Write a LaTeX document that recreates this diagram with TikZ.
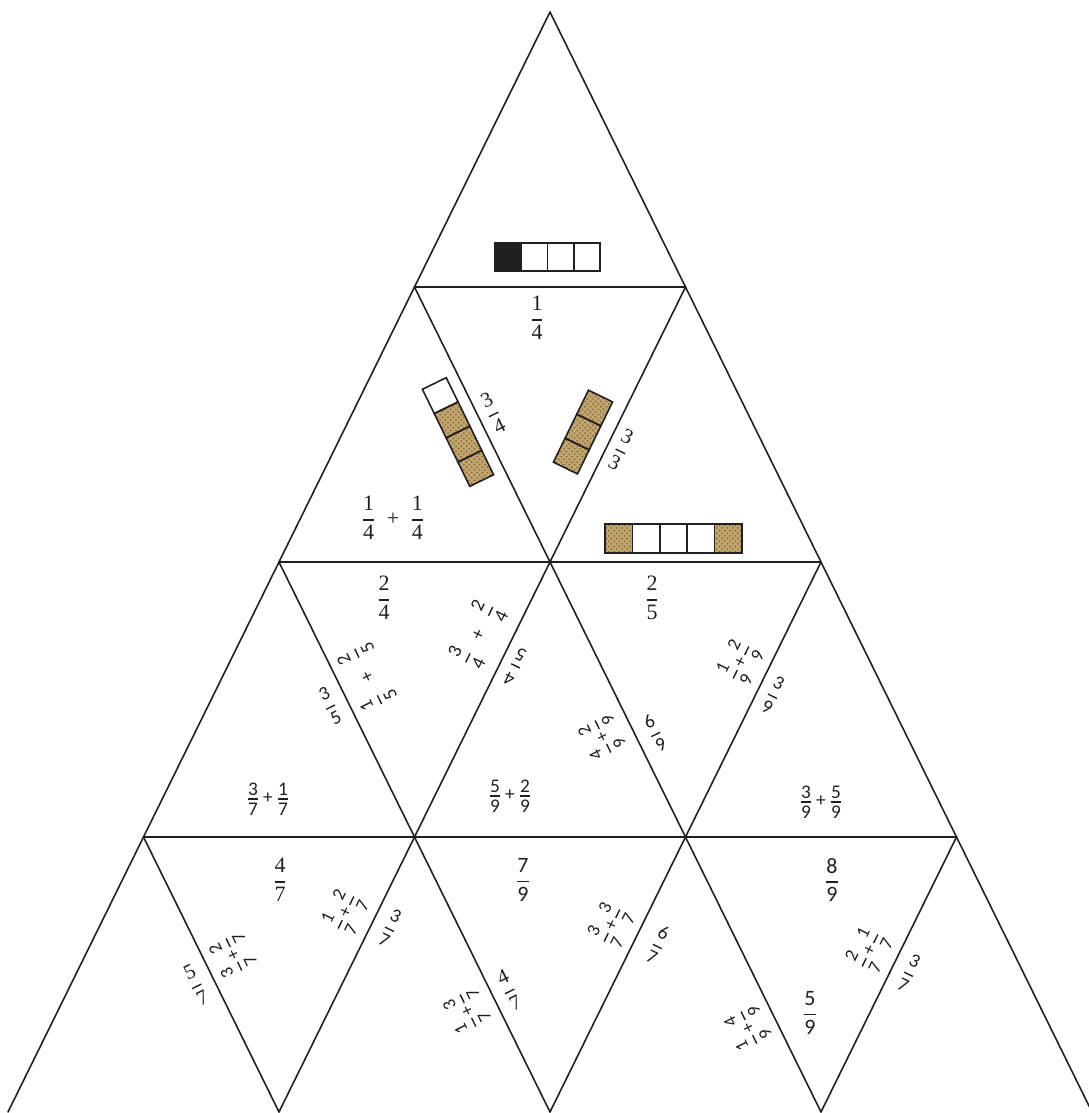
\documentclass[tikz,border=0pt]{standalone}
\usepackage{amsmath}
\usepackage{fontspec}
\setmainfont{Liberation Serif}
\newfontfamily\sansdigits{Carlito}
\usepackage{tikz}
\usetikzlibrary{patterns}
\definecolor{ink}{HTML}{231F20}
\definecolor{burlap}{HTML}{C1A56F}
\definecolor{burlapdark}{HTML}{7A5F33}
\newcommand{\fr}[2]{\ensuremath{\genfrac{}{}{0.8pt}{0}{\mbox{#1}}{\mbox{#2}}}}
\newcommand{\tfr}[2]{\ensuremath{\genfrac{}{}{0.8pt}{1}{\mbox{#1\rule[-1pt]{0pt}{1pt}}}{\mbox{#2\rule{0pt}{0.75em}}}}}
\tikzset{
  edge/.style={draw=ink,line width=0.9pt,line cap=round},
  cell/.style={draw=ink,line width=0.9pt},
  burl/.style={fill=burlap,postaction={pattern=crosshatch dots,pattern color=burlapdark}},
  big/.style={font=\fontsize{12.5}{15}\selectfont,text=ink,inner sep=0pt},
  bigsans/.style={font=\sansdigits\fontsize{12.5}{15}\selectfont,text=ink,inner sep=0pt},
  mid/.style={font=\fontsize{12}{14}\selectfont,text=ink,inner sep=0pt},
  single/.style={font=\sansdigits\fontsize{11}{13}\selectfont,text=ink,inner sep=0pt},
  small/.style={font=\sansdigits\fontsize{10.5}{12}\selectfont,text=ink,inner sep=0pt},
  flat/.style={font=\sansdigits\fontsize{11}{13}\selectfont,text=ink,inner sep=0pt},
  smallbig/.style={font=\sansdigits\fontsize{11}{13}\selectfont,text=ink,inner sep=0pt}
}
\begin{document}
\begin{tikzpicture}[x=0.02cm,y=-0.02cm]
\useasboundingbox (0,0) rectangle (1089,1113);
\clip (0,0) rectangle (1089,1113);

\foreach \i in {0,...,4}{
  \foreach \j in {0,...,\i}{
    \coordinate (v-\i-\j) at ({550+135.5*(2*\j-\i)},{12+275*\i});
  }
}
\draw[edge] (v-0-0) -- (v-4-0);
\draw[edge] (v-0-0) -- (v-4-4);
\foreach \k/\m in {1/3,2/2,3/1}{
  \draw[edge] (v-\k-0) -- (v-\k-\k);
  \draw[edge] (v-\k-0) -- (v-4-\m);
  \draw[edge] (v-\k-\k) -- (v-4-\k);
}

% bars of cells
\fill[ink] (495,243) rectangle ++(26.25,28);
\foreach \k in {0,...,3} \draw[cell] ({495+26.25*\k},243) rectangle ++(26.25,28);

\foreach \k in {0,4} \path[burl] ({605+27.4*\k},524) rectangle ++(27.4,29);
\foreach \k in {0,...,4} \draw[cell] ({605+27.4*\k},524) rectangle ++(27.4,29);

\begin{scope}[shift={(458,432)},rotate=26]
  \foreach \k in {1,2,3} \path[burl] (-13.25,{-54+27*\k}) rectangle ++(26.5,27);
  \foreach \k in {0,...,3} \draw[cell] (-13.25,{-54+27*\k}) rectangle ++(26.5,27);
\end{scope}
\begin{scope}[shift={(583,432)},rotate=-26]
  \foreach \k in {0,1,2} \path[burl] (-13.4,{-40+26.7*\k}) rectangle ++(26.8,26.7);
  \foreach \k in {0,1,2} \draw[cell] (-13.4,{-40+26.7*\k}) rectangle ++(26.8,26.7);
\end{scope}

\node[big] (quarter) at (537,318) {\fr{1}{4}};
\node[mid,rotate=26] (threeqtr) at (493,413) {\fr{3}{4}};
\node[mid,rotate=-26] (whole) at (621,450) {\fr{3}{3}};
\node[big] (qtrsum) at (393,518) {\fr{1}{4}\hspace{6pt}+\hspace{6pt}\fr{1}{4}};

\node[big] (half) at (384,598) {\fr{2}{4}};
\node[big] (twofifths) at (652,598) {\fr{2}{5}};
\node[single,rotate=26] (threefifths) at (330,706) {\fr{3}{5}};
\node[smallbig,rotate=116] (fifthsum) at (367,677) {\fr{1}{5}\hspace{8pt}+\hspace{8pt}\fr{2}{5}};
\node[smallbig,rotate=64] (qtrsumB) at (478,634) {\fr{3}{4}\hspace{8pt}+\hspace{8pt}\fr{2}{4}};
\node[single,rotate=154] (fourfifths) at (515,667) {\fr{4}{5}};
\node[small,rotate=116] (ninsumA) at (602,737) {\fr{4}{9}\hspace{1pt}+\hspace{1pt}\fr{2}{9}};
\node[single,rotate=26] (sixnin) at (655,733) {\fr{6}{9}};
\node[small,rotate=64] (ninsumB) at (740,662) {\fr{1}{9}\hspace{1pt}+\hspace{1pt}\fr{2}{9}};
\node[single,rotate=-26] (threenin) at (773,695) {\fr{3}{9}};
\node[flat] (sevsum) at (268,799) {\tfr{3}{7}\,+\,\tfr{1}{7}};
\node[flat] (ninsumC) at (510,796) {\tfr{5}{9}\,+\,\tfr{2}{9}};
\node[flat] (ninsumD) at (821,802) {\tfr{3}{9}\,+\,\tfr{5}{9}};

\node[mid,rotate=26] (fivesev) at (196,985) {\fr{5}{7}};
\node[big] (foursev) at (280,880) {\fr{4}{7}};
\node[small,rotate=116] (sevsumA) at (233,955) {\fr{3}{7}\hspace{1pt}+\hspace{1pt}\fr{2}{7}};
\node[small,rotate=64] (sevsumB) at (345,912) {\fr{1}{7}\hspace{1pt}+\hspace{1pt}\fr{2}{7}};
\node[single,rotate=-26] (threesev) at (390,928) {\fr{3}{7}};
\node[small,rotate=116] (sevsumC) at (467,1011) {\fr{1}{7}\hspace{1pt}+\hspace{1pt}\fr{3}{7}};
\node[mid,rotate=26] (foursevB) at (509,990) {\fr{4}{7}};
\node[bigsans] (sevnin) at (523,880) {\fr{7}{9}};
\node[small,rotate=64] (sevsumD) at (611,925) {\fr{3}{7}\hspace{1pt}+\hspace{1pt}\fr{3}{7}};
\node[single,rotate=-26] (sixsev) at (658,945) {\fr{6}{7}};
\node[small,rotate=116] (ninsumE) at (748,1028) {\fr{1}{9}\hspace{1pt}+\hspace{1pt}\fr{4}{9}};
\node[bigsans] (fivenin) at (810,1013) {\fr{5}{9}};
\node[bigsans] (eightnin) at (832,880) {\fr{8}{9}};
\node[small,rotate=64] (sevsumE) at (869,950) {\fr{2}{7}\hspace{1pt}+\hspace{1pt}\fr{1}{7}};
\node[single,rotate=-26] (threesevB) at (909,973) {\fr{3}{7}};
\end{tikzpicture}
\end{document}
